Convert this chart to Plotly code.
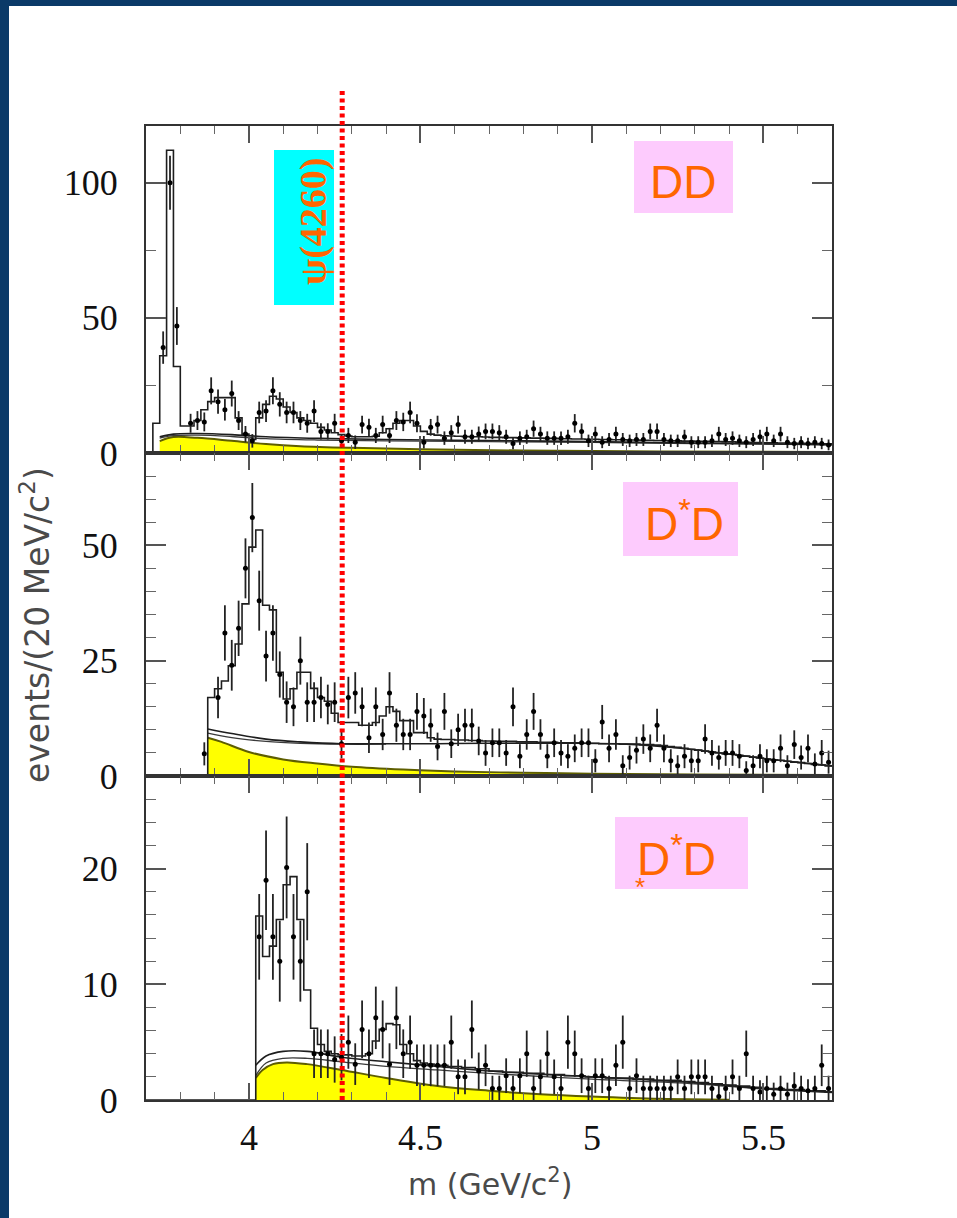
import numpy as np
import plotly.graph_objects as go

W, H = 957, 1218
L, R, T, B = 146, 832, 126, 1100

# ---------------- data ----------------
# panel 1 : DD   (bin centres start 3.73, 20 MeV bins)
d1 = [None, 39, 100, 47, None, 11, 12, 11.5, 23, 19,
      16, 22, 12, 7, 4.5, 15, 15.5, 23, 18, 15,
      15, 12, 11, 15.5, 8, 8, 11, 4.5, 6.5, 4,
      10.5, 9.5, 6.5, 10.5, 6.5, 12, 11.5, 15, 11, 4,
      9.5, 10.5, 5.5, 7.5, 10.5, 6, 6, 7, 8, 8,
      7.5, 6, 3.5, 5.5, 6, 9, 7, 5.5, 5.5, 5.5,
      6, 11, 8, 4.5, 7, 4, 5, 7, 5, 4.5,
      5, 5, 8, 8, 5, 4.5, 4.5, 6, 4, 4,
      4, 4.5, 7, 5, 5.5, 4.5, 4, 5, 6, 7,
      4.5, 7, 4, 3.5, 4, 3.5, 4, 3.5, 3]
e1 = [None, 6, 10, 7, None, 3.5, 3.5, 3.5, 5, 4.5,
      4, 4.8, 3.5, 3, 2.5, 4, 4, 5, 4.5, 4,
      4, 3.5, 3.5, 4, 3, 3, 3.5, 2.5, 2.8, 2.5,
      3.3, 3.2, 2.8, 3.3, 2.8, 3.5, 3.4, 4, 3.3, 2.3,
      3.1, 3.3, 2.5, 2.8, 3.3, 2.6, 2.6, 2.8, 2.9, 2.9,
      2.8, 2.6, 2.1, 2.5, 2.6, 3, 2.7, 2.5, 2.5, 2.5,
      2.6, 3.4, 2.9, 2.3, 2.7, 2.2, 2.4, 2.7, 2.4, 2.3,
      2.4, 2.4, 2.9, 2.9, 2.4, 2.3, 2.3, 2.6, 2.2, 2.2,
      2.2, 2.3, 2.7, 2.4, 2.5, 2.3, 2.2, 2.4, 2.6, 2.7,
      2.3, 2.7, 2.2, 2.1, 2.2, 2.1, 2.2, 2.1, 2]
f1 = [11, 36, 112, 32, 10, 10, 12, 16, 19, 20.5,
      20.5, 20.5, 13, 7, 5, 13, 18, 21, 20, 17,
      15, 13, 12, 11, 9.5, 8.5, 7.5, 6.8, 6.3, 6,
      6, 6, 6.2, 7.5, 9, 11, 12, 12, 10, 8,
      7, 6.6, 6.4, 6.3, 6.2, 6.1, 6, 6, 5.9, 5.8,
      5.8, 5.7, 5.7, 5.6, 5.6, 5.5, 5.5, 5.4, 5.4, 5.3,
      5.3, 5.2, 5.2, 5.1, 5.1, 5.0, 5.0, 4.9, 4.9, 4.8,
      4.8, 4.7, 4.7, 4.6, 4.6, 4.5, 4.5, 4.4, 4.4, 4.3,
      4.3, 4.2, 4.2, 4.1, 4.1, 4.0, 4.0, 3.9, 3.9, 3.8,
      3.8, 3.7, 3.7, 3.6, 3.6, 3.5, 3.5, 3.4, 3.4]
start1 = 3.73
bkgA1_x = [3.74, 3.78, 3.85, 3.95, 4.05, 4.2, 4.4, 4.7, 5.0, 5.3, 5.7]
bkgA1_y = [6.0, 7.0, 7.2, 6.8, 6.0, 5.4, 5.0, 4.6, 4.2, 3.7, 3.1]
bkgB1_x = [3.74, 3.78, 3.85, 3.95, 4.05, 4.2, 4.4, 4.7, 5.0, 5.3, 5.7]
bkgB1_y = [5.5, 6.4, 6.6, 6.1, 5.3, 4.8, 4.5, 4.2, 3.9, 3.5, 3.0]
yel1_x = [3.74, 3.78, 3.85, 3.95, 4.05, 4.15, 4.3, 4.5, 4.8, 5.2, 5.7]
yel1_y = [4.4, 5.9, 5.6, 4.5, 3.3, 2.5, 1.9, 1.4, 0.9, 0.6, 0.4]

# panel 2 : D*D  (bin centres start 3.87)
d2 = [4.8, None, 17, 31, 24, 32, 45, 56, 38, 26,
      31, 22, 16, 15, 25, 16, 16, 17, 15.5, 16,
      7, 17, 18, 15, 8.3, 15, 9, 18, 11, 9,
      9, 14, 13, 11, 6.4, 14, 7, 10, 11, 11,
      7.6, 5, 7.2, 7.2, 5, 15, 4.3, 9, 14, 9,
      4.3, 7.2, 5, 4.3, 6, 7.2, 7.2, 3.3, 11.7, 6,
      9, 2.2, 4, 5.6, 8, 6, 11, 6, 3.3, 2.2,
      4.3, 3.3, 3.3, 8, 5, 4, 5, 5, 4.3, 1.2,
      2.2, 4.3, 3.3, 3.3, 6, 2.2, 6.8, 4, 6, 2.6,
      5, 3]
e2 = [2.5, None, 4.5, 6, 5.5, 6, 6.5, 7.5, 6.5, 5.5,
      6, 5, 4.5, 4.2, 5.2, 4.3, 4.3, 4.5, 4.3, 4.3,
      3.2, 4.5, 4.5, 4.2, 3.3, 4.2, 3.4, 4.5, 3.6, 3.4,
      3.4, 4, 3.9, 3.6, 3, 4, 3.1, 3.5, 3.6, 3.6,
      3.1, 2.8, 3.1, 3.1, 2.8, 4.2, 2.6, 3.3, 4, 3.3,
      2.6, 3.1, 2.8, 2.6, 3, 3.1, 3.1, 2.5, 3.7, 3,
      3.3, 2.3, 2.6, 2.9, 3.2, 3, 3.6, 3, 2.5, 2.3,
      2.6, 2.5, 2.5, 3.2, 2.8, 2.6, 2.8, 2.8, 2.6, 2,
      2.3, 2.6, 2.5, 2.5, 3, 2.3, 3.1, 2.6, 3, 2.3,
      2.8, 2.5]
f2 = [0, 17, 18.9, 20.6, 23.9, 28.6, 37.3, 49.6, 53.3, 37,
      36, 22.5, 16.7, 18.9, 22.5, 22.5, 19, 17, 16.2, 13.6,
      11.6, 11.6, 11.6, 11, 11, 11.6, 13, 15, 14, 12,
      12, 9.4, 9.4, 8.3, 8.0, 7.9, 7.9, 7.8, 7.8, 7.7,
      7.7, 7.6, 7.6, 7.5, 7.5, 7.5, 7.4, 7.4, 7.4, 7.3,
      7.3, 7.3, 7.2, 7.2, 7.2, 7.1, 7.1, 7.1, 7.0, 7.0,
      7.0, 6.9, 6.9, 6.9, 6.8, 6.8, 6.7, 6.6, 6.4, 6.2,
      6.0, 5.8, 5.6, 5.4, 5.2, 5.0, 4.8, 4.7, 4.5, 4.3,
      4.1, 3.9, 3.7, 3.5, 3.4, 3.2, 3.0, 2.9, 2.7, 2.5,
      2.4, 2.2]
start2 = 3.87
bkgA2_x = [3.88, 3.95, 4.05, 4.15, 4.27, 4.4, 4.55, 4.7, 4.9, 5.1, 5.3, 5.5, 5.7]
bkgA2_y = [10.2, 9.2, 8.0, 7.4, 7.0, 7.0, 7.0, 7.1, 7.1, 6.9, 5.7, 3.8, 2.2]
bkgB2_x = [3.88, 3.95, 4.05, 4.15, 4.27, 4.4]
bkgB2_y = [9.3, 8.3, 7.5, 7.1, 6.9, 6.9]
yel2_x = [3.88, 3.92, 4.0, 4.1, 4.2, 4.3, 4.45, 4.6, 4.8, 5.0, 5.3, 5.7]
yel2_y = [8.3, 7.4, 5.2, 3.6, 2.7, 2.0, 1.4, 1.0, 0.7, 0.5, 0.3, 0.2]

# panel 3 : D*D*  (bin centres start 4.03)
d3 = [14.1, 19, 14.1, 12, 20.1, 14.1, 12, 18, 4, 4,
      4, 3.5, 3.7, 5, 3.1, 6.1, 4, 7.1, 6.1, 3.1,
      7.1, 4, 5, 3, 3, 3, 3, 3, 5, 2,
      2, 6.1, 2.5, 3, 1, 1, 2.1, 1, 2.1, 4,
      1, 2, 4, 2, 1, 5, 4, 2.1, 1, 2.1,
      2.1, 1, 3, 5, 1, 2.1, 1, 1, 1, 1,
      1, 2, 1, 2, 2, 2, 1, 0.3, 1, 2,
      1, 4, 1, 0.7, 1, 0.5, 1, 0.5, 1.2, 1,
      0.8, 1, 3, 1]
e3 = [3.7, 4.3, 3.7, 3.5, 4.4, 3.7, 3.5, 4.2, 2.1, 2.1,
      2.1, 2, 2, 2.3, 1.8, 2.5, 2.1, 2.7, 2.5, 1.8,
      2.7, 2.1, 2.3, 1.8, 1.8, 1.8, 1.8, 1.8, 2.3, 1.5,
      1.5, 2.5, 1.6, 1.8, 1.1, 1.1, 1.5, 1.1, 1.5, 2,
      1.1, 1.5, 2, 1.5, 1.1, 2.3, 2, 1.5, 1.1, 1.5,
      1.5, 1.1, 1.8, 2.3, 1.1, 1.5, 1.1, 1.1, 1.1, 1.1,
      1.1, 1.5, 1.1, 1.5, 1.5, 1.5, 1.1, 1, 1.1, 1.5,
      1.1, 2, 1.1, 1, 1.1, 1, 1.1, 1, 1.2, 1.1,
      1, 1.1, 1.8, 1.1]
f3 = [15.9, 12.4, 13.3, 15.6, 18.6, 19.3, 15.6, 9.5, 6.2, 4.8,
      4.2, 4.0, 3.9, 3.9, 3.8, 3.8, 4.0, 5.1, 6.1, 6.6,
      6.5, 4.8, 4.0, 3.4, 3.2, 3.1, 3.0, 3.0, 2.9, 2.9,
      2.8, 2.8, 2.7, 2.7, 2.5, 2.5, 2.4, 2.4, 2.4, 2.3,
      2.3, 2.3, 2.2, 2.2, 2.2, 2.1, 2.1, 2.1, 2.0, 2.0,
      2.0, 1.9, 1.9, 1.9, 1.9, 1.8, 1.8, 1.8, 1.7, 1.7,
      1.7, 1.7, 1.6, 1.6, 1.5, 1.5, 1.4, 1.4, 1.3, 1.3,
      1.2, 1.2, 1.1, 1.1, 1.0, 1.0, 1.0, 0.9, 0.9, 0.9,
      0.8, 0.8, 0.8, 0.7]
start3 = 4.03
bkgA3_x = [4.02, 4.05, 4.1, 4.17, 4.27, 4.4, 4.55, 4.7, 5.0, 5.3, 5.5, 5.7]
bkgA3_y = [3.0, 3.8, 4.2, 4.2, 3.7, 3.3, 2.9, 2.5, 2.0, 1.5, 1.0, 0.7]
bkgB3_x = [4.02, 4.05, 4.1, 4.17, 4.27, 4.4, 4.55, 4.7, 5.0, 5.3, 5.5, 5.7]
bkgB3_y = [2.1, 3.2, 3.6, 3.6, 3.3, 2.9, 2.6, 2.3, 1.8, 1.4, 0.95, 0.65]
yel3_x = [4.02, 4.04, 4.07, 4.11, 4.17, 4.27, 4.4, 4.55, 4.7, 4.85, 5.0, 5.2, 5.4]
yel3_y = [1.9, 2.6, 3.1, 3.25, 3.1, 2.6, 1.9, 1.2, 0.8, 0.5, 0.3, 0.1, 0.03]

psi_x = 4.272
bin_w = 0.02
x_range = [3.7, 5.7]
x_ticks = [4, 4.5, 5, 5.5]
x_tick_text = ["4", "4.5", "5", "5.5"]
y_ranges = [[0, 121], [0, 70], [0, 28]]
y_dticks = [50, 25, 10]
y_minor = [25, 5, 2]
labels = ["DD", "D<sup>*</sup>D", "D<sup>*</sup>D"]

# ---------------- helpers ----------------
def px(x):
    return (x - L) / (R - L)

def py(y):
    return (B - y) / (B - T)

d_lo = py(776)
d_hi = py(453)

fig = go.Figure()

panels = [
    (start1, d1, e1, f1, (bkgA1_x, bkgA1_y), (bkgB1_x, bkgB1_y), (yel1_x, yel1_y), "x", "y"),
    (start2, d2, e2, f2, (bkgA2_x, bkgA2_y), (bkgB2_x, bkgB2_y), (yel2_x, yel2_y), "x2", "y2"),
    (start3, d3, e3, f3, (bkgA3_x, bkgA3_y), (bkgB3_x, bkgB3_y), (yel3_x, yel3_y), "x3", "y3"),
]

ink = "#1e1e1e"
for start, d, e, f, bA, bB, yel, xa, ya in panels:
    n = len(d)
    centres = np.round(start + bin_w * np.arange(n), 3)
    edges = centres - bin_w / 2
    # yellow component
    fig.add_trace(go.Scatter(x=yel[0], y=yel[1], mode="lines", line=dict(color="#5e5e00", width=2, shape="spline"),
                             fill="tozeroy", fillcolor="#ffff00", xaxis=xa, yaxis=ya, hoverinfo="skip"))
    # background curves
    fig.add_trace(go.Scatter(x=bB[0], y=bB[1], mode="lines", line=dict(color="#3a3a3a", width=1.3, shape="spline"),
                             xaxis=xa, yaxis=ya, hoverinfo="skip"))
    fig.add_trace(go.Scatter(x=bA[0], y=bA[1], mode="lines", line=dict(color=ink, width=1.6, shape="spline"),
                             xaxis=xa, yaxis=ya, hoverinfo="skip"))
    # fit histogram (step)
    sx = [x_range[0], edges[0]] + list(edges) + [edges[-1] + bin_w]
    sy = [0, 0] + list(f) + [f[-1]]
    fig.add_trace(go.Scatter(x=sx, y=sy, mode="lines", line=dict(color=ink, width=1.6, shape="hv"),
                             xaxis=xa, yaxis=ya, hoverinfo="skip"))
    # data points
    fig.add_trace(go.Scatter(x=centres, y=d, mode="markers",
                             marker=dict(color="#000000", size=5, symbol="circle"),
                             error_y=dict(type="data", array=e, visible=True, color="#222222", thickness=1.8, width=0),
                             error_x=dict(type="constant", value=0.005, visible=True, color="#222222", thickness=1.4, width=0),
                             xaxis=xa, yaxis=ya, hoverinfo="skip"))

axis_common = dict(range=x_range, showline=True, linecolor="#333333", linewidth=2, mirror="allticks",
                   ticks="inside", tickvals=x_ticks, ticklen=17, tickwidth=1.5, tickcolor="#555555",
                   minor=dict(dtick=0.1, tick0=4.0, ticks="inside", ticklen=8, tickwidth=1.2, tickcolor="#666666"),
                   showgrid=False, zeroline=False)

layout = dict(
    width=W, height=H,
    margin=dict(l=L, r=W - R, t=T, b=H - B),
    paper_bgcolor="#ffffff", plot_bgcolor="#ffffff",
    showlegend=False,
    xaxis=dict(domain=[0, 1], anchor="y", showticklabels=False, **axis_common),
    xaxis2=dict(domain=[0, 1], anchor="y2", showticklabels=False, **axis_common),
    xaxis3=dict(domain=[0, 1], anchor="y3", showticklabels=True, ticktext=x_tick_text,
                tickfont=dict(family="Liberation Serif", size=36, color="#111111"), ticklabelstandoff=5,
                **axis_common),
)
doms = [[d_hi, 1], [d_lo, d_hi], [0, d_lo]]
for i, key in enumerate(["yaxis", "yaxis2", "yaxis3"]):
    layout[key] = dict(domain=doms[i], anchor=["x", "x2", "x3"][i], range=y_ranges[i],
                       dtick=y_dticks[i], tick0=0, showline=True, linecolor="#333333", linewidth=2,
                       mirror="allticks", ticks="inside", ticklen=20, tickwidth=1.5, tickcolor="#555555",
                       minor=dict(dtick=y_minor[i], tick0=0, ticks="inside", ticklen=10, tickwidth=1.2,
                                  tickcolor="#666666"),
                       tickfont=dict(family="Liberation Serif", size=36, color="#111111"),
                       ticklabelstandoff=19, showgrid=False, zeroline=False)
fig.update_layout(**layout)

shapes = []
# blue slide background strips
shapes.append(dict(type="rect", xref="paper", yref="paper", x0=px(0), x1=px(W), y0=py(6), y1=py(-2),
                   fillcolor="#0b3a68", line=dict(width=0), layer="below"))
shapes.append(dict(type="rect", xref="paper", yref="paper", x0=px(-2), x1=px(9), y0=py(H + 2), y1=py(-2),
                   fillcolor="#0b3a68", line=dict(width=0), layer="below"))
# cyan box and pink boxes
shapes.append(dict(type="rect", xref="paper", yref="paper", x0=px(274), x1=px(334), y0=py(305), y1=py(150),
                   fillcolor="#00ffff", line=dict(width=0), layer="above"))
for (x0, x1, y0, y1) in [(634, 733, 141, 213), (623, 738, 482, 556), (615, 748, 817, 889)]:
    shapes.append(dict(type="rect", xref="paper", yref="paper", x0=px(x0), x1=px(x1), y0=py(y1), y1=py(y0),
                       fillcolor="#fdcbfd", line=dict(width=0), layer="above"))
# red dotted psi(4260) line
shapes.append(dict(type="line", xref="x3", yref="paper", x0=psi_x, x1=psi_x, y0=0, y1=py(89),
                   line=dict(color="#ff0000", width=5, dash="4px,3.5px"), layer="above"))
fig.update_layout(shapes=shapes)

ann = []
ann.append(dict(text="<b>ψ(4260)</b>", x=px(313), y=py(222), xref="paper", yref="paper", showarrow=False,
                textangle=-90, font=dict(family="Liberation Serif", size=38, color="#ff6600"),
                xanchor="center", yanchor="middle"))
label_pos = [(683, 182), (684, 521), (676, 856)]
for lab, (lx, ly) in zip(labels, label_pos):
    ann.append(dict(text=lab, x=px(lx), y=py(ly), xref="paper", yref="paper", showarrow=False,
                    font=dict(family="Liberation Sans", size=46, color="#ff6600"),
                    xanchor="center", yanchor="middle"))
ann.append(dict(text="*", x=px(640), y=py(887), xref="paper", yref="paper", showarrow=False,
                font=dict(family="Liberation Sans", size=26, color="#ff6600"), xanchor="center", yanchor="middle"))
ann.append(dict(text="events/(20 MeV/c<sup>2</sup>)", x=px(35), y=py(625), xref="paper", yref="paper",
                showarrow=False, textangle=-90, font=dict(family="DejaVu Sans", size=33, color="#4a4a4a"),
                xanchor="center", yanchor="middle"))
ann.append(dict(text="m (GeV/c<sup>2</sup>)", x=px(490), y=py(1182), xref="paper", yref="paper",
                showarrow=False, font=dict(family="DejaVu Sans", size=30, color="#4a4a4a"),
                xanchor="center", yanchor="middle"))
fig.update_layout(annotations=ann)

fig.write_html("out.html")
